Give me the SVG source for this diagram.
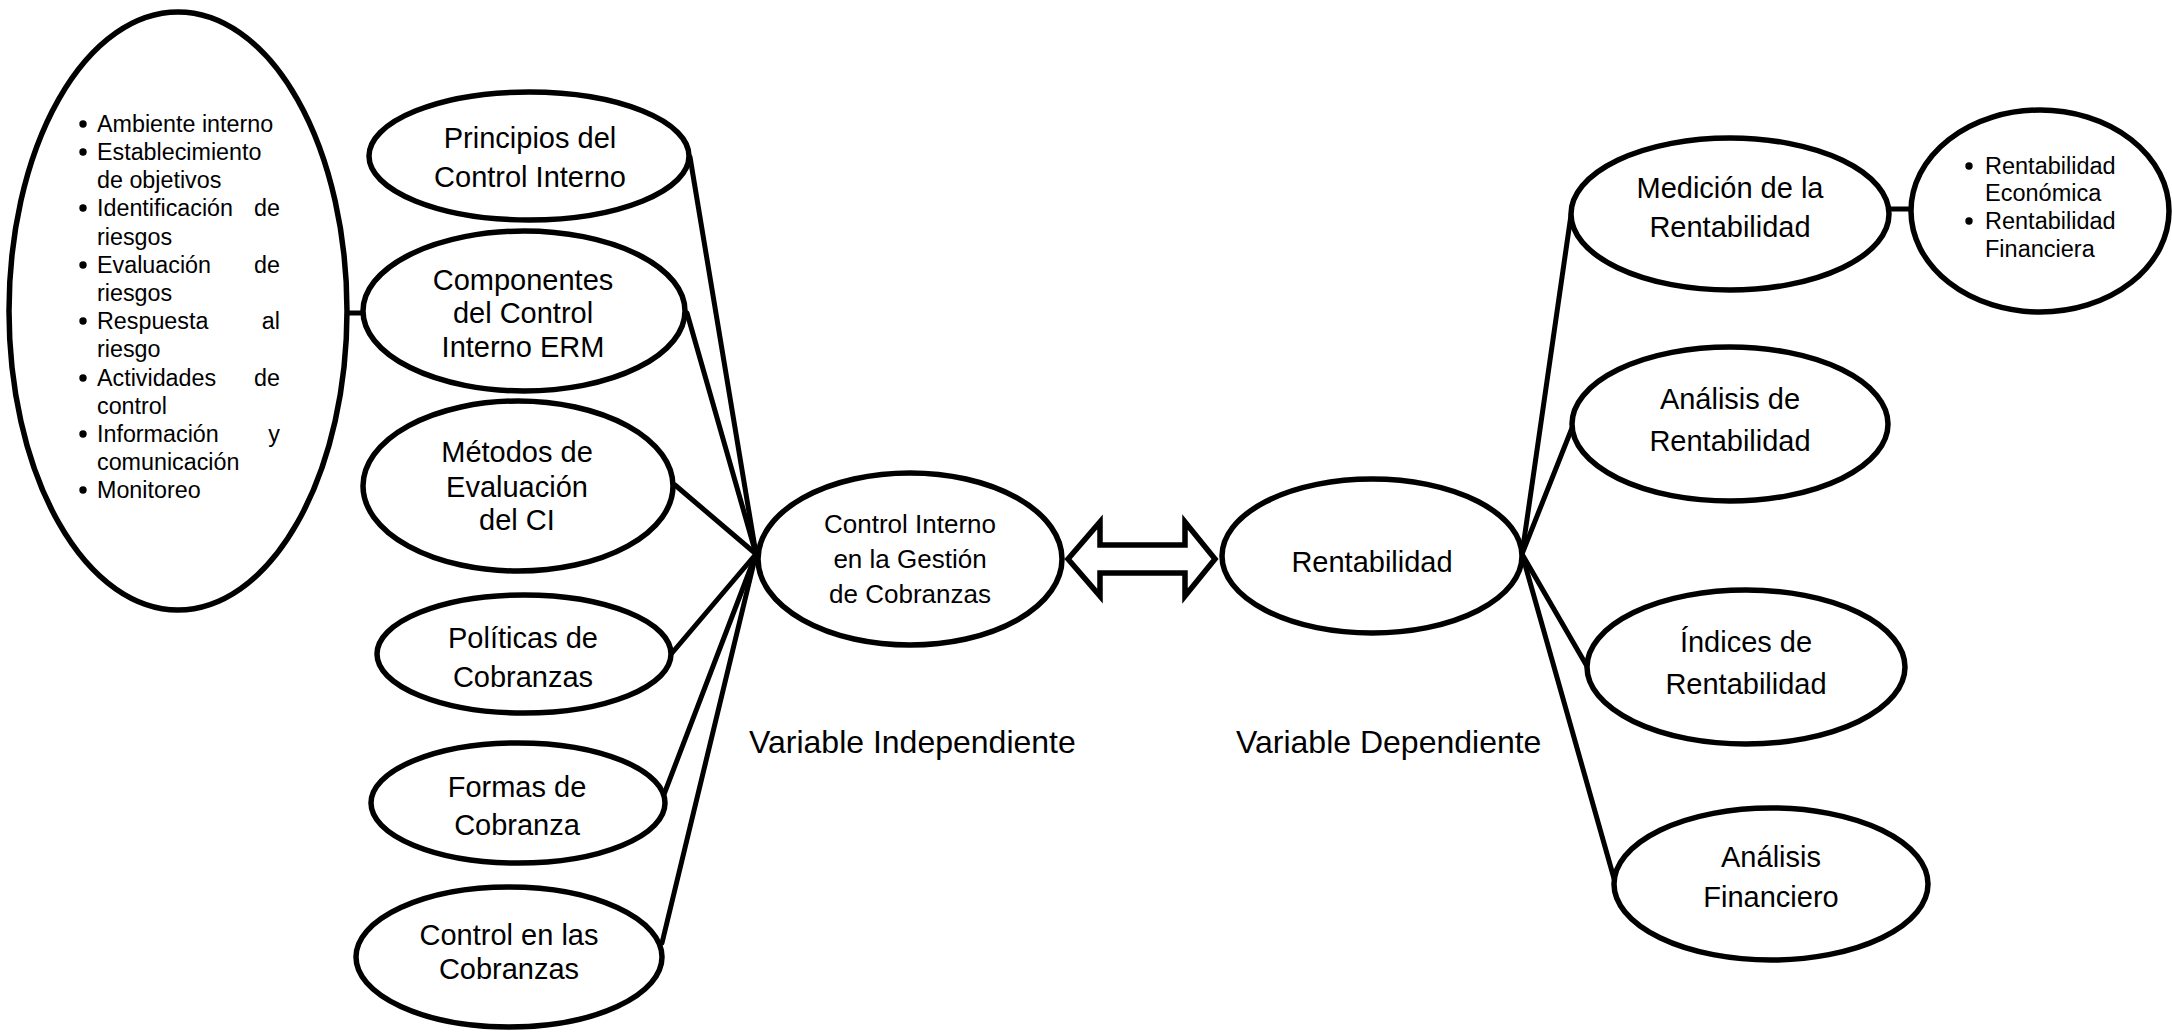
<svg xmlns="http://www.w3.org/2000/svg" width="2172" height="1032" viewBox="0 0 2172 1032">
  <style>
    .shape { fill: #fff; stroke: #000; stroke-width: 5.5; }
    .wire { stroke: #000; stroke-width: 5; fill: none; stroke-linecap: round; }
    .bullet { fill: #000; }
    text { font-family: "Liberation Sans", Arial, sans-serif; fill: #000; }
    .lbl { font-size: 29px; text-anchor: middle; }
    .hub { font-size: 26px; text-anchor: middle; }
    .var { font-size: 32px; }
    .li { font-size: 23.3px; }
    .li2 { font-size: 23.5px; }
    .end { text-anchor: end; }
  </style>
  <defs>
    <circle id="b" class="bullet" r="3.7"/>
  </defs>
  <rect width="2172" height="1032" fill="#fff"/>

  <!-- connectors -->
  <g id="connectors">
    <line class="wire" x1="345" y1="313" x2="364" y2="313"/>
    <line class="wire" x1="690" y1="157" x2="756" y2="554"/>
    <line class="wire" x1="687" y1="313" x2="756" y2="554"/>
    <line class="wire" x1="675" y1="485" x2="756" y2="554"/>
    <line class="wire" x1="672" y1="653" x2="756" y2="554"/>
    <line class="wire" x1="663" y1="797" x2="756" y2="554"/>
    <line class="wire" x1="662" y1="943" x2="756" y2="554"/>
    <line class="wire" x1="1522" y1="554" x2="1571" y2="215"/>
    <line class="wire" x1="1522" y1="554" x2="1572" y2="428"/>
    <line class="wire" x1="1522" y1="554" x2="1588" y2="668"/>
    <line class="wire" x1="1522" y1="554" x2="1615" y2="882"/>
    <line class="wire" x1="1889" y1="209" x2="1911" y2="209"/>
    <!-- two-way block arrow between the variables -->
    <polygon class="shape" stroke-width="5" stroke-linejoin="miter"
      points="1068,559 1100,522 1100,545 1185,545 1185,522 1215,559 1185,596 1185,573 1100,573 1100,596"/>
  </g>

  <!-- ERM components list -->
  <g id="erm-list">
    <ellipse class="shape" cx="178" cy="311" rx="169" ry="299" stroke-width="5"/>
    <use href="#b" x="83" y="124"/>
    <use href="#b" x="83" y="152"/>
    <use href="#b" x="83" y="208"/>
    <use href="#b" x="83" y="265"/>
    <use href="#b" x="83" y="321"/>
    <use href="#b" x="83" y="378"/>
    <use href="#b" x="83" y="434"/>
    <use href="#b" x="83" y="490"/>
    <g class="li">
      <text x="97" y="132">Ambiente interno</text>
      <text x="97" y="160">Establecimiento</text>
      <text x="97" y="188">de objetivos</text>
      <text x="97" y="216">Identificación</text><text class="end" x="280" y="216">de</text>
      <text x="97" y="245">riesgos</text>
      <text x="97" y="273">Evaluación</text><text class="end" x="280" y="273">de</text>
      <text x="97" y="301">riesgos</text>
      <text x="97" y="329">Respuesta</text><text class="end" x="280" y="329">al</text>
      <text x="97" y="357">riesgo</text>
      <text x="97" y="386">Actividades</text><text class="end" x="280" y="386">de</text>
      <text x="97" y="414">control</text>
      <text x="97" y="442">Información</text><text class="end" x="280" y="442">y</text>
      <text x="97" y="470">comunicación</text>
      <text x="97" y="498">Monitoreo</text>
    </g>
  </g>

  <g id="principios">
    <ellipse class="shape" cx="529" cy="156" rx="160" ry="64"/>
    <text class="lbl" x="530" y="148">Principios del</text>
    <text class="lbl" x="530" y="187">Control Interno</text>
  </g>

  <g id="componentes">
    <ellipse class="shape" cx="524" cy="311" rx="161" ry="80"/>
    <text class="lbl" x="523" y="290">Componentes</text>
    <text class="lbl" x="523" y="323">del Control</text>
    <text class="lbl" x="523" y="357">Interno ERM</text>
  </g>

  <g id="metodos">
    <ellipse class="shape" cx="518" cy="486" rx="155" ry="85"/>
    <text class="lbl" x="517" y="462">Métodos de</text>
    <text class="lbl" x="517" y="497">Evaluación</text>
    <text class="lbl" x="517" y="530">del CI</text>
  </g>

  <g id="politicas">
    <ellipse class="shape" cx="524" cy="654" rx="147" ry="59"/>
    <text class="lbl" x="523" y="648">Políticas de</text>
    <text class="lbl" x="523" y="687">Cobranzas</text>
  </g>

  <g id="formas">
    <ellipse class="shape" cx="518" cy="803" rx="147" ry="60"/>
    <text class="lbl" x="517" y="797">Formas de</text>
    <text class="lbl" x="517" y="835">Cobranza</text>
  </g>

  <g id="control-cobranzas">
    <ellipse class="shape" cx="509" cy="957" rx="153" ry="70"/>
    <text class="lbl" x="509" y="945">Control en las</text>
    <text class="lbl" x="509" y="979">Cobranzas</text>
  </g>

  <g id="control-interno">
    <ellipse class="shape" cx="910" cy="559" rx="152" ry="86"/>
    <text class="hub" x="910" y="533">Control Interno</text>
    <text class="hub" x="910" y="568">en la Gestión</text>
    <text class="hub" x="910" y="603">de Cobranzas</text>
  </g>

  <g id="rentabilidad">
    <ellipse class="shape" cx="1372" cy="556" rx="150" ry="77"/>
    <text class="lbl" x="1372" y="572">Rentabilidad</text>
  </g>

  <g id="medicion">
    <ellipse class="shape" cx="1730" cy="214" rx="159" ry="76"/>
    <text class="lbl" x="1730" y="198">Medición de la</text>
    <text class="lbl" x="1730" y="237">Rentabilidad</text>
  </g>

  <g id="tipos-rentabilidad">
    <ellipse class="shape" cx="2040" cy="211" rx="129" ry="101"/>
    <use href="#b" x="1969" y="166"/>
    <use href="#b" x="1969" y="221"/>
    <g class="li2">
      <text x="1985" y="174">Rentabilidad</text>
      <text x="1985" y="201">Económica</text>
      <text x="1985" y="229">Rentabilidad</text>
      <text x="1985" y="257">Financiera</text>
    </g>
  </g>

  <g id="analisis-rentabilidad">
    <ellipse class="shape" cx="1730" cy="424" rx="158" ry="77"/>
    <text class="lbl" x="1730" y="409">Análisis de</text>
    <text class="lbl" x="1730" y="451">Rentabilidad</text>
  </g>

  <g id="indices">
    <ellipse class="shape" cx="1746" cy="667" rx="159" ry="77"/>
    <text class="lbl" x="1746" y="652">Índices de</text>
    <text class="lbl" x="1746" y="694">Rentabilidad</text>
  </g>

  <g id="analisis-financiero">
    <ellipse class="shape" cx="1771" cy="884" rx="157" ry="76"/>
    <text class="lbl" x="1771" y="867">Análisis</text>
    <text class="lbl" x="1771" y="907">Financiero</text>
  </g>

  <g id="labels">
    <text class="var" x="749" y="753">Variable Independiente</text>
    <text class="var" x="1236" y="753">Variable Dependiente</text>
  </g>
</svg>
